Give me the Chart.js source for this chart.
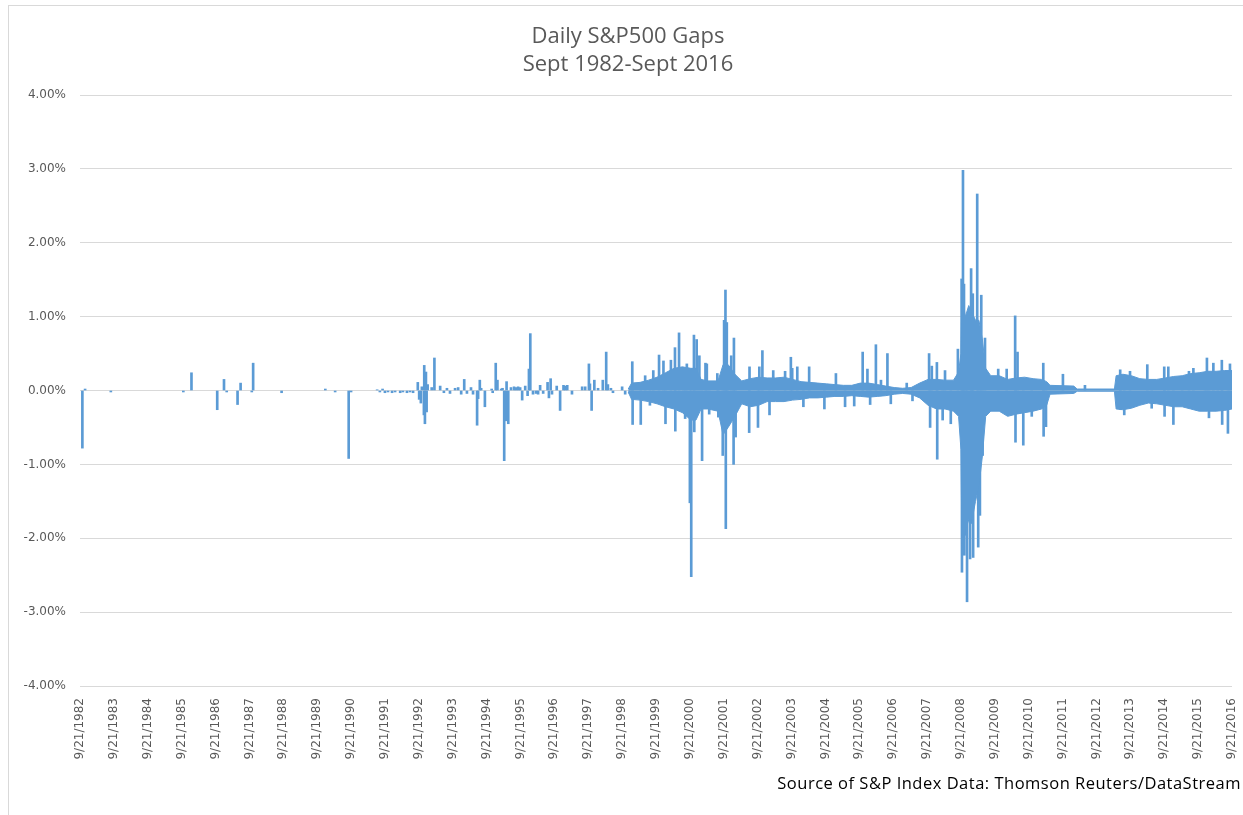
<!DOCTYPE html>
<html>
<head>
<meta charset="utf-8">
<script src="https://cdn.jsdelivr.net/npm/chart.js@4.4.1/dist/chart.umd.min.js"></script>
<style>
  html, body { margin: 0; padding: 0; background: #fff; overflow: hidden; }
  #wrap { position: relative; width: 1243px; height: 815px; overflow: hidden; }
  #frame { position: absolute; left: 8px; top: 5px; width: 1300px; height: 900px; border: 1px solid #d9d9d9; }
  #title { position: absolute; left: 428px; top: 19.5px; width: 400px; text-align: center;
           font: 22px/28px "Open Sans"; color: #595959; }
  #source { position: absolute; right: 2px; top: 773px; font: 16.5px/20px "Open Sans"; letter-spacing: 0.5px;
            color: #000; white-space: nowrap; }
  canvas { position: absolute; left: 0; top: 0; }
</style>
</head>
<body>
<div id="wrap">
  <div id="frame"></div>
  <canvas id="chart" width="1243" height="815"></canvas>
  <div id="title">Daily S&amp;P500 Gaps<br>Sept 1982-Sept 2016</div>
  <div id="source">Source of S&amp;P Index Data: Thomson Reuters/DataStream</div>
</div>
<script>
// x positions are decimal years, values are gaps in percent
const tickYears = [1982, 1983, 1984, 1985, 1986, 1987, 1988, 1989, 1990, 1991, 1992, 1993,
  1994, 1995, 1996, 1997, 1998, 1999, 2000, 2001, 2002, 2003, 2004, 2005, 2006, 2007,
  2008, 2009, 2010, 2011, 2012, 2013, 2014, 2015, 2016];

// dense body of daily gaps (typical high / low around each date)
const bandDates = [1998.90, 1999.00, 1999.25, 1999.50, 1999.75, 2000.00, 2000.25, 2000.50,
  2000.75, 2000.90, 2001.05, 2001.25, 2001.55, 2001.70, 2001.85, 2002.05, 2002.25, 2002.50,
  2002.75, 2003.00, 2003.25, 2003.50, 2003.75, 2004.00, 2004.25, 2004.50, 2004.75, 2005.00,
  2005.25, 2005.50, 2005.75, 2006.00, 2006.25, 2006.50, 2006.75, 2007.00, 2007.25, 2007.50,
  2007.75, 2008.00, 2008.25, 2008.50, 2008.65, 2008.72, 2008.75, 2008.85, 2008.95, 2009.05,
  2009.15, 2009.25, 2009.35, 2009.45, 2009.60, 2009.85, 2010.10, 2010.35, 2010.60, 2010.85,
  2011.10, 2011.25, 2011.35, 2012.05, 2012.15, 2013.25, 2013.30, 2013.50, 2013.75, 2014.00,
  2014.25, 2014.50, 2014.75, 2015.00, 2015.25, 2015.50, 2015.75, 2016.00, 2016.25, 2016.50,
  2016.72];
const bandHigh = [0.02, 0.10, 0.11, 0.14, 0.18, 0.24, 0.30, 0.32,
  0.30, 0.30, 0.15, 0.13, 0.13, 0.35, 0.35, 0.22, 0.13, 0.16,
  0.18, 0.17, 0.17, 0.18, 0.15, 0.12, 0.11, 0.10, 0.09, 0.08,
  0.07, 0.07, 0.10, 0.10, 0.08, 0.06, 0.04, 0.03, 0.04, 0.10,
  0.15, 0.15, 0.14, 0.14, 0.25, 0.50, 1.30, 1.00, 1.15, 1.05,
  0.95, 0.95, 0.70, 0.30, 0.20, 0.20, 0.15, 0.17, 0.18, 0.16,
  0.15, 0.12, 0.07, 0.06, 0.02, 0.02, 0.20, 0.22, 0.20, 0.16,
  0.15, 0.15, 0.17, 0.19, 0.20, 0.23, 0.24, 0.26, 0.26, 0.27,
  0.27];
const bandLow = [-0.02, -0.12, -0.13, -0.15, -0.18, -0.22, -0.25, -0.30,
  -0.40, -0.40, -0.25, -0.25, -0.28, -0.60, -0.50, -0.35, -0.18, -0.22,
  -0.20, -0.15, -0.15, -0.15, -0.13, -0.12, -0.10, -0.10, -0.09, -0.08,
  -0.08, -0.07, -0.08, -0.09, -0.08, -0.07, -0.05, -0.04, -0.05, -0.10,
  -0.20, -0.25, -0.25, -0.28, -0.35, -0.80, -2.10, -1.90, -1.75, -1.75,
  -1.50, -1.30, -0.90, -0.35, -0.28, -0.28, -0.35, -0.32, -0.30, -0.28,
  -0.25, -0.20, -0.05, -0.04, -0.01, -0.01, -0.25, -0.26, -0.24, -0.20,
  -0.17, -0.18, -0.20, -0.22, -0.22, -0.25, -0.28, -0.28, -0.28, -0.27,
  -0.25];

// individual daily gaps that stand out
const spikeDates = [1982.79, 1982.87, 1983.63, 1985.77, 1986.01, 1986.77, 1986.97, 1987.05,
  1987.37, 1987.46, 1987.79, 1987.83, 1988.67, 1989.96, 1990.25, 1990.65, 1990.72, 1991.49,
  1991.57, 1991.65, 1991.72, 1991.81, 1991.93, 1992.02, 1992.17, 1992.25, 1992.37, 1992.46,
  1992.55, 1992.69, 1992.73, 1992.78, 1992.81, 1992.87, 1992.88, 1992.90, 1992.93, 1992.95,
  1992.98, 1993.10, 1993.18, 1993.35, 1993.46, 1993.55, 1993.64, 1993.79, 1993.88, 1993.97,
  1994.06, 1994.14, 1994.26, 1994.32, 1994.44, 1994.47, 1994.52, 1994.56, 1994.67, 1994.87,
  1994.90, 1994.99, 1995.04, 1995.15, 1995.19, 1995.24, 1995.29, 1995.31, 1995.36, 1995.44,
  1995.53, 1995.59, 1995.65, 1995.71, 1995.77, 1995.86, 1995.93, 1995.97, 1996.01, 1996.09,
  1996.18, 1996.24, 1996.30, 1996.39, 1996.52, 1996.56, 1996.61, 1996.65, 1996.79, 1996.89,
  1996.99, 1997.04, 1997.10, 1997.24, 1997.54, 1997.63, 1997.74, 1997.77, 1997.82, 1997.90,
  1998.01, 1998.15, 1998.25, 1998.30, 1998.39, 1998.45, 1998.72, 1998.81, 1998.95,
  1999.02, 1999.03, 1999.27, 1999.40, 1999.54, 1999.64, 1999.81, 1999.94, 2000.00, 2000.16,
  2000.28, 2000.29, 2000.40, 2000.53, 2000.58, 2000.63, 2000.72, 2000.76, 2000.84, 2000.85,
  2000.92, 2001.00, 2001.08, 2001.18, 2001.22, 2001.29, 2001.53, 2001.56, 2001.69, 2001.73,
  2001.77, 2001.78, 2001.81, 2001.84, 2001.94, 2002.01, 2002.02, 2002.07, 2002.47, 2002.48,
  2002.73, 2002.77, 2002.86, 2003.07, 2003.18, 2003.53, 2003.70, 2003.74, 2003.89, 2004.07,
  2004.24, 2004.69, 2005.03, 2005.30, 2005.57, 2005.82, 2005.96, 2006.04, 2006.21, 2006.36,
  2006.55, 2006.65, 2007.12, 2007.29, 2007.78, 2007.81, 2007.86, 2008.01, 2008.02, 2008.18,
  2008.25, 2008.42, 2008.63, 2008.74, 2008.75, 2008.78, 2008.81, 2008.82, 2008.86, 2008.90,
  2008.91, 2008.99, 2009.02, 2009.04, 2009.07, 2009.08, 2009.20, 2009.23, 2009.28, 2009.32,
  2009.36, 2009.43, 2009.82, 2010.07, 2010.32, 2010.33, 2010.39, 2010.56, 2010.81, 2011.15,
  2011.16, 2011.23, 2011.73, 2012.38, 2013.42, 2013.43, 2013.54, 2013.71, 2014.22, 2014.35,
  2014.72, 2014.73, 2014.84, 2014.99, 2015.25, 2015.45, 2015.58, 2015.92, 2015.98, 2016.04,
  2016.17, 2016.30, 2016.42, 2016.43, 2016.60, 2016.66];
const spikeValues = [-0.78, 0.02, -0.02, -0.02, 0.24, -0.26, 0.15, -0.02,
  -0.19, 0.10, -0.02, 0.37, -0.03, 0.02, -0.02, -0.92, -0.02, 0.01,
  -0.02, 0.02, -0.03, -0.02, -0.03, -0.02, -0.03, -0.02, -0.03, -0.02,
  -0.03, 0.11, -0.12, -0.17, 0.05, -0.33, 0.34, -0.45, 0.25, -0.29,
  0.08, 0.04, 0.44, 0.06, -0.03, 0.03, -0.04, 0.03, 0.04, -0.05,
  0.15, -0.04, 0.04, -0.05, -0.47, -0.11, 0.14, 0.03, -0.22, 0.02,
  -0.03, 0.37, 0.14, 0.02, 0.03, -0.95, -0.41, 0.12, -0.45, 0.04,
  0.05, 0.04, 0.05, 0.04, -0.13, 0.06, -0.07, 0.29, 0.77, -0.05,
  -0.04, -0.05, 0.07, -0.04, 0.11, -0.10, 0.16, -0.05, 0.06, -0.27,
  0.07, 0.06, 0.07, -0.05, 0.05, 0.05, 0.36, 0.09, -0.27, 0.14,
  0.03, 0.14, 0.52, 0.08, 0.03, -0.03, 0.05, -0.05, -0.04,
  0.39, -0.46, -0.46, 0.20, -0.20, 0.27, 0.48, 0.40, -0.45, 0.41,
  0.58, -0.55, 0.78, -0.29, -0.38, 0.36, -1.52, -2.52, 0.75, -0.56,
  0.69, 0.47, -0.95, 0.37, 0.36, -0.32, 0.23, -0.36, -0.88, 0.95,
  1.36, -1.87, 0.92, 0.32, 0.47, -1.00, 0.71, -0.63, -0.57, 0.32,
  -0.50, 0.32, 0.54, -0.33, 0.27, 0.26, 0.45, 0.30, 0.32, -0.22,
  0.32, -0.25, 0.23, -0.22, -0.21, 0.52, 0.29, -0.19, 0.62, 0.14,
  0.50, -0.18, 0.10, -0.14, 0.50, -0.50, 0.33, 0.38, -0.93, -0.40,
  0.27, -0.45, 0.56, 1.51, -2.46, 2.98, 1.44, -2.23, -1.96, -2.86,
  0.95, -2.28, 1.65, -1.80, 1.31, -2.26, 2.66, -2.12, -1.69, 1.29,
  -0.88, 0.71, 0.29, 0.29, 1.01, -0.70, 0.52, -0.74, -0.35, 0.37,
  -0.62, -0.49, 0.22, 0.07, 0.28, -0.26, -0.33, 0.26, 0.35, -0.24,
  0.32, -0.35, 0.32, -0.46, 0.18, 0.26, 0.30, 0.23, 0.44, -0.37,
  0.37, -0.26, 0.41, -0.46, -0.58, 0.36];

const blue = "#5b9bd5";
const grey = "#595959";
const toPoints = (xs, ys) => xs.map((x, i) => ({ x: x, y: ys[i] }));

const bandStyle = {
  type: "line",
  borderColor: blue,
  backgroundColor: blue,
  borderWidth: 1,
  pointRadius: 0,
  tension: 0,
  fill: "origin"
};

new Chart(document.getElementById("chart"), {
  type: "bar",
  data: {
    datasets: [
      Object.assign({ data: toPoints(bandDates, bandHigh) }, bandStyle),
      Object.assign({ data: toPoints(bandDates, bandLow) }, bandStyle),
      {
        type: "bar",
        data: toPoints(spikeDates, spikeValues),
        backgroundColor: blue,
        barThickness: 2
      }
    ]
  },
  options: {
    responsive: false,
    animation: false,
    layout: { padding: { top: 95, right: 11, bottom: 0, left: 0 } },
    plugins: {
      legend: { display: false },
      tooltip: { enabled: false }
    },
    scales: {
      x: {
        type: "linear",
        min: 1982.72,
        max: 2016.72,
        offset: false,
        grid: { display: false, offset: false },
        border: { display: false },
        afterBuildTicks: s => { s.ticks = tickYears.map(y => ({ value: y + 0.72 })); },
        afterFit: s => {
          s.height = 129;
          s.paddingLeft = 0;
          s.paddingRight = 0;
        },
        ticks: {
          autoSkip: false,
          minRotation: 90,
          maxRotation: 90,
          padding: 4,
          color: grey,
          font: { family: "DejaVu Sans", size: 12 },
          callback: v => "9/21/" + Math.round(v - 0.72)
        }
      },
      y: {
        min: -4,
        max: 4,
        afterFit: s => { s.width = 80; },
        border: { display: false },
        grid: { color: "#d9d9d9", drawTicks: false },
        ticks: {
          stepSize: 1,
          padding: 14,
          color: grey,
          font: { family: "DejaVu Sans", size: 12 },
          callback: v => v.toFixed(2) + "%"
        }
      }
    }
  }
});
</script>
</body>
</html>
